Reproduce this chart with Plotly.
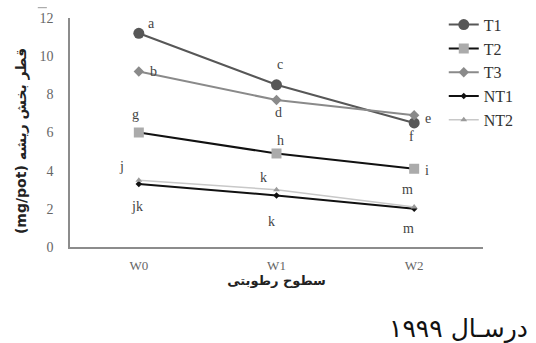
import plotly.graph_objects as go

# Moisture levels on the x axis
levels = ["W0", "W1", "W2"]

# Root weight per pot (mg/pot) for each treatment
t1 = [11.2, 8.5, 6.5]
t2 = [6.0, 4.9, 4.1]
t3 = [9.2, 7.7, 6.9]
nt1 = [3.3, 2.7, 2.0]
nt2 = [3.5, 3.0, 2.1]

# Mean-separation letters for each point
t1_letters = ["a", "c", "f"]
t2_letters = ["g", "h", "i"]
t3_letters = ["b", "d", "e"]
nt1_letters = ["jk", "k", "m"]
nt2_letters = ["j", "k", "m"]

serif = "'Liberation Serif', 'Times New Roman', 'DejaVu Serif', serif"
fa = "'DejaVu Sans', 'Noto Sans', sans-serif"

RLE, PDF = "\u202B", "\u202C"

series = [
    dict(name="T1", y=t1, line=dict(color="#575757", width=2),
         marker=dict(symbol="circle", size=11, color="#575757")),
    dict(name="T2", y=t2, line=dict(color="#111111", width=2),
         marker=dict(symbol="square", size=10, color="#ababab")),
    dict(name="T3", y=t3, line=dict(color="#8a8a8a", width=2),
         marker=dict(symbol="diamond", size=8, color="#8a8a8a")),
    dict(name="NT1", y=nt1, line=dict(color="#111111", width=2),
         marker=dict(symbol="diamond", size=5, color="#111111")),
    dict(name="NT2", y=nt2, line=dict(color="#c8c8c8", width=1.5),
         marker=dict(symbol="triangle-up", size=6, color="#9a9a9a")),
]

fig = go.Figure()
for s in series:
    fig.add_trace(go.Scatter(x=levels, y=s["y"], name=s["name"], mode="lines+markers",
                             line=s["line"], marker=s["marker"]))

# letter placement offsets (px) for each point
labels = [
    (t1, t1_letters, [(13, 10), (3, 20), (-3, -14)]),
    (t3, t3_letters, [(15, 0), (2, -12), (14, -3)]),
    (t2, t2_letters, [(-3, 18), (4, 13), (13, -2)]),
    (nt2, nt2_letters, [(-17, 14), (-13, 12), (-7, 17)]),
    (nt1, nt1_letters, [(-2, -22), (-5, -26), (-6, -20)]),
]
for vals, letters, offs in labels:
    for lvl, v, letter, (dx, dy) in zip(levels, vals, letters, offs):
        fig.add_annotation(x=lvl, y=v, xref="x", yref="y", text=letter, showarrow=False,
                           xshift=dx, yshift=dy,
                           font=dict(family=serif, size=14, color="#444444"))

# y-axis title, set as a rotated annotation
fig.add_annotation(text="<b>(mg/pot) قطر بخش ریشه</b>", xref="paper", yref="paper",
                   x=-0.116, y=0.463, textangle=-90, showarrow=False,
                   xanchor="center", yanchor="middle",
                   font=dict(family=fa, size=14, color="#222222"))

# year caption under the chart
fig.add_annotation(text=RLE + "درسـال ۱۹۹۹" + PDF, xref="paper", yref="paper",
                   x=1.115, y=-0.355, xanchor="right", yanchor="middle", showarrow=False,
                   font=dict(family=fa, size=25, color="#111111"))

# short rule above the top tick label
fig.add_shape(type="line", xref="paper", yref="paper", x0=-0.078, x1=-0.056,
              y0=1.045, y1=1.045, line=dict(color="#999999", width=1))

fig.update_layout(
    width=536, height=343,
    margin=dict(l=70, r=53, t=18, b=96, autoexpand=False),
    paper_bgcolor="white", plot_bgcolor="white",
    showlegend=True,
    legend=dict(x=0.905, y=1.045, xanchor="left", yanchor="top",
                font=dict(family=serif, size=16, color="#333333"),
                bgcolor="rgba(0,0,0,0)", itemwidth=30),
    xaxis=dict(type="category", range=[-0.5, 2.5], showgrid=False, zeroline=False,
               showline=True, linecolor="#8c8c8c", linewidth=1.5, ticks="",
               ticklabelstandoff=6, automargin=False,
               tickfont=dict(family=serif, size=13, color="#666666"),
               title=dict(text="<b>سطوح رطوبتی</b>", standoff=3,
                          font=dict(family=fa, size=13, color="#222222"))),
    yaxis=dict(range=[0, 12], dtick=2, showgrid=False, zeroline=False,
               showline=True, linecolor="#8c8c8c", linewidth=1.5, ticks="",
               ticklabelstandoff=12, automargin=False,
               tickfont=dict(family=serif, size=14, color="#666666")),
)

fig.write_html("out.html")
